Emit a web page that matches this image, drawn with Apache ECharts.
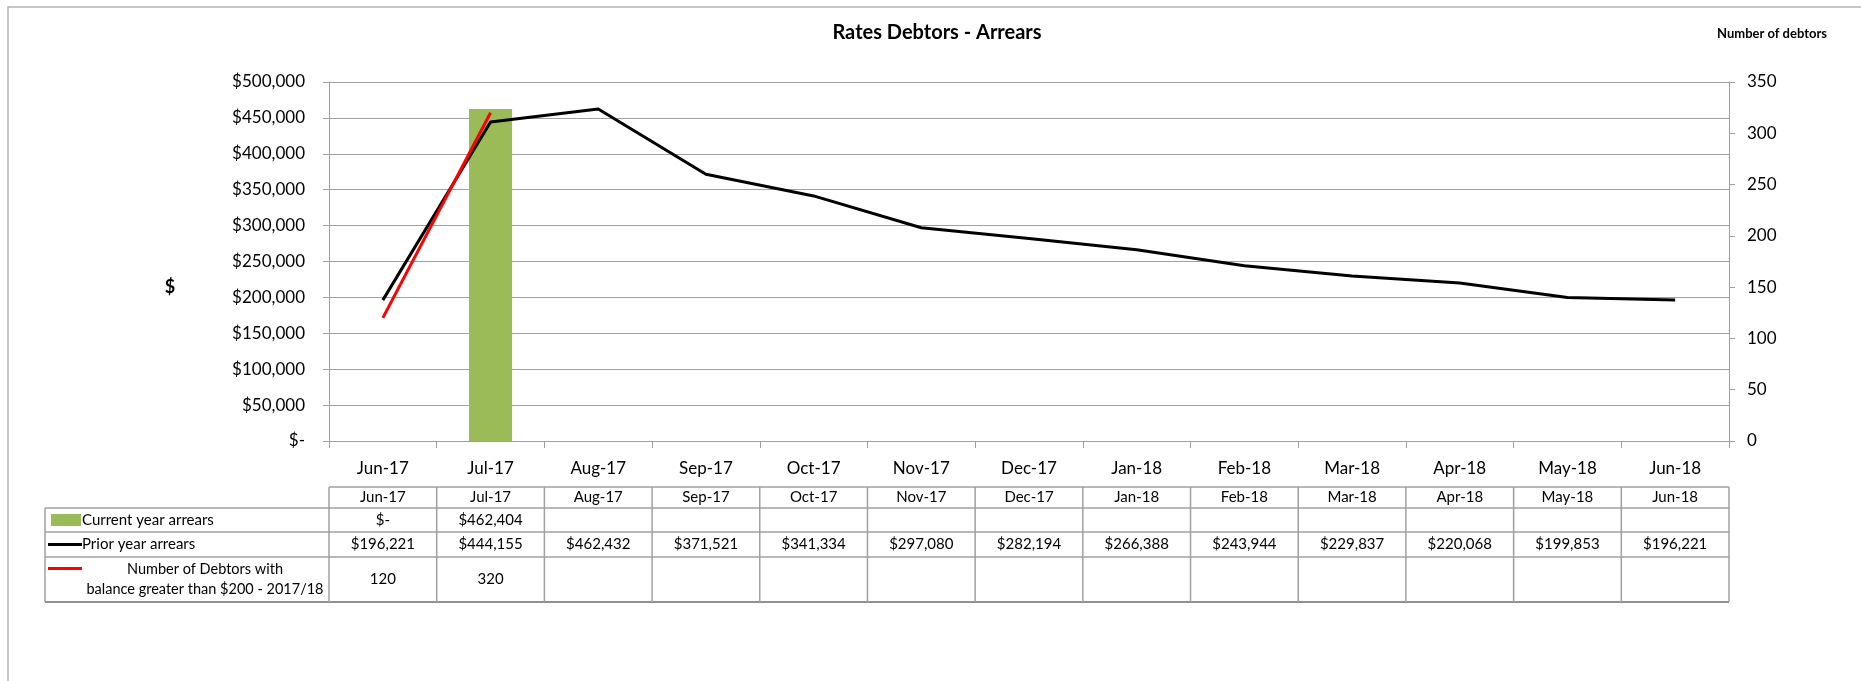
<!DOCTYPE html>
<html><head><meta charset="utf-8">
<script src="https://cdn.jsdelivr.net/npm/echarts@6/dist/echarts.min.js"></script>
<style>html,body{margin:0;padding:0;background:#fff}#c{width:1861px;height:681px}</style>
</head><body><div id="c"></div>
<script>
// ---- data ----
const months = ['Jun-17','Jul-17','Aug-17','Sep-17','Oct-17','Nov-17','Dec-17','Jan-18','Feb-18','Mar-18','Apr-18','May-18','Jun-18'];
const currentYearArrears = [0, 462404, null, null, null, null, null, null, null, null, null, null, null];
const priorYearArrears = [196221, 444155, 462432, 371521, 341334, 297080, 282194, 266388, 243944, 229837, 220068, 199853, 196221];
const debtorsOver200 = [120, 320, null, null, null, null, null, null, null, null, null, null, null];
const seriesNames = ['Current year arrears', 'Prior year arrears', 'Number of Debtors with\nbalance greater than $200 - 2017/18'];
const titleText = 'Rates Debtors - Arrears';
const leftAxisName = '$';
const rightAxisName = 'Number of debtors';
const leftMax = 500000, leftStep = 50000;
const rightMax = 350, rightStep = 50;

// ---- styles ----
const FONT = 'Lato, "Noto Sans", sans-serif';
const GRAY = '#a0a0a0';
const GREEN = '#9bbb59';

function money(v) {
  if (v === null || v === undefined) return '';
  if (v === 0) return '$-';
  return '$' + Math.round(v).toLocaleString('en-US');
}
function plain(v) { return (v === null || v === undefined) ? '' : String(v); }

const chart = echarts.init(document.getElementById('c'), null, {renderer: 'canvas'});
chart.setOption({
  animation: false,
  backgroundColor: '#fff',
  grid: {left: 329, right: 132, top: 82, bottom: 240, containLabel: false},
  xAxis: {
    type: 'category', data: months, boundaryGap: true,
    axisLine: {lineStyle: {color: GRAY, width: 1}},
    axisTick: {show: true, alignWithLabel: false, length: 7, lineStyle: {color: GRAY}},
    axisLabel: {color: '#000', fontFamily: FONT, fontSize: 17, margin: 19}
  },
  yAxis: [{
    type: 'value', min: 0, max: leftMax, interval: leftStep,
    axisLine: {show: true, lineStyle: {color: GRAY}},
    axisTick: {show: true, length: 6, lineStyle: {color: GRAY}},
    splitLine: {show: true, lineStyle: {color: GRAY, width: 1}},
    axisLabel: {color: '#000', fontFamily: FONT, fontSize: 17, margin: 24, formatter: v => money(v)}
  }, {
    type: 'value', min: 0, max: rightMax, interval: rightStep, position: 'right',
    axisLine: {show: true, lineStyle: {color: GRAY}},
    axisTick: {show: true, length: 6, lineStyle: {color: GRAY}},
    splitLine: {show: false},
    axisLabel: {color: '#000', fontFamily: FONT, fontSize: 17, margin: 18}
  }],
  series: [{
    name: seriesNames[0], type: 'bar', data: currentYearArrears, barWidth: '40%',
    itemStyle: {color: GREEN}
  }, {
    name: seriesNames[1], type: 'line', data: priorYearArrears, showSymbol: false, symbol: 'none',
    lineStyle: {color: '#000', width: 3}, z: 3
  }, {
    name: seriesNames[2], type: 'line', yAxisIndex: 1, data: debtorsOver200, showSymbol: false, symbol: 'none',
    lineStyle: {color: '#ff0000', width: 3}, z: 4
  }]
});

// ---- data table beneath the chart, columns taken from the category axis ----
function buildTable() {
  const c0 = chart.convertToPixel({xAxisIndex: 0}, 0);
  const c1 = chart.convertToPixel({xAxisIndex: 0}, 1);
  const band = c1 - c0;
  const n = months.length;
  const colLeft = i => c0 + (i - 0.5) * band;
  const xStart = colLeft(0), xEnd = colLeft(n);
  const tableLeft = 45;
  const rows = [487, 508, 532, 557, 602];
  const els = [];
  const line = (x1, y1, x2, y2, color, w) => els.push({type: 'line', silent: true,
    shape: {x1, y1, x2, y2}, style: {stroke: color || GRAY, lineWidth: w || 1.5}});
  const text = (t, x, y, align, opts) => els.push({type: 'text', silent: true,
    style: Object.assign({text: t, x, y, align: align || 'center', verticalAlign: 'middle',
      fill: '#000', fontFamily: FONT, fontSize: 15}, opts || {})});

  // outer chart frame
  els.push({type: 'rect', silent: true, shape: {x: 8, y: 7, width: 1900, height: 800},
    style: {fill: 'none', stroke: '#b4b4b4', lineWidth: 1.5}});

  // horizontal lines
  line(xStart, rows[0], xEnd, rows[0]);
  for (let r = 1; r < rows.length; r++) line(tableLeft, rows[r], xEnd, rows[r], r === rows.length - 1 ? '#909090' : GRAY, r === rows.length - 1 ? 2 : 1.5);
  // vertical lines
  line(tableLeft, rows[1], tableLeft, rows[4]);
  for (let i = 0; i <= n; i++) line(colLeft(i), rows[0], colLeft(i), rows[4]);

  const mid = r => (rows[r] + rows[r + 1]) / 2;
  for (let i = 0; i < n; i++) {
    const cx = c0 + i * band;
    text(months[i], cx, mid(0));
    text(money(currentYearArrears[i]), cx, mid(1));
    text(money(priorYearArrears[i]), cx, mid(2));
    text(plain(debtorsOver200[i]), cx, mid(3));
  }
  // legend keys
  els.push({type: 'rect', silent: true, shape: {x: 51, y: mid(1) - 6, width: 30, height: 12}, style: {fill: GREEN}});
  line(48, mid(2), 82, mid(2), '#000', 3);
  line(48, mid(3) - 11, 82, mid(3) - 11, '#ff0000', 3);
  text(seriesNames[0], 82, mid(1), 'left');
  text(seriesNames[1], 82, mid(2), 'left');
  const parts = seriesNames[2].split('\n');
  text(parts[0], 205, mid(3) - 10, 'center', {fontSize: 14.5});
  text(parts[1], 205, mid(3) + 10, 'center', {fontSize: 14.5});

  // titles
  text(titleText, 937, 33, 'center', {fontSize: 20, fontWeight: 'bold'});
  text(rightAxisName, 1772, 34, 'center', {fontSize: 13, fontWeight: 'bold'});
  text(leftAxisName, 170, 287, 'center', {fontSize: 18, fontWeight: 'bold'});

  chart.setOption({graphic: els});
}
buildTable();
</script>
</body></html>
